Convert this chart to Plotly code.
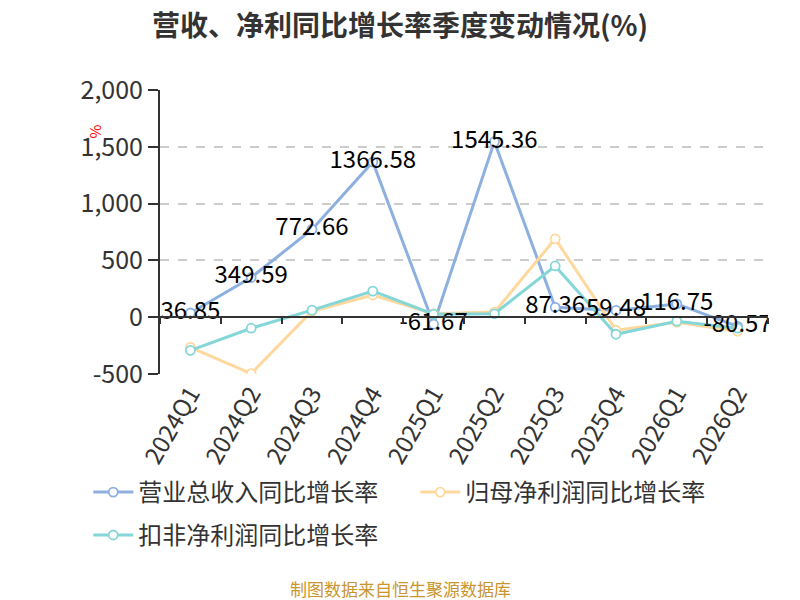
import plotly.graph_objects as go

quarters = ["2024Q1", "2024Q2", "2024Q3", "2024Q4", "2025Q1",
            "2025Q2", "2025Q3", "2025Q4", "2026Q1", "2026Q2"]
revenue_yoy = [36.85, 349.59, 772.66, 1366.58, -61.67, 1545.36, 87.36, 59.48, 116.75, -80.57]
net_profit_yoy = [-265, -496, 53, 195, 30, 45, 690, -115, -44, -124]
deducted_profit_yoy = [-292, -97, 62, 230, 27, 30, 451, -150, -35, -97]

y_ticks = [-500, 0, 500, 1000, 1500, 2000]
y_tick_text = ["-500", "0", "500", "1,000", "1,500", "2,000"]

FONT = "Noto Sans CJK SC"
series = [
    ("营业总收入同比增长率", revenue_yoy, "#8eb0df", "legend"),
    ("归母净利润同比增长率", net_profit_yoy, "#fed89c", "legend"),
    ("扣非净利润同比增长率", deducted_profit_yoy, "#84d6d8", "legend2"),
]

fig = go.Figure()
for name, vals, color, leg in series:
    fig.add_trace(go.Scatter(
        x=quarters, y=vals, name=name, mode="lines+markers", legend=leg,
        line=dict(color=color, width=3),
        marker=dict(size=9, color="white", line=dict(color=color, width=1.8)),
    ))

# labels of the revenue series, drawn on top of everything
fig.add_trace(go.Scatter(
    x=quarters, y=revenue_yoy, mode="text", xaxis="x2", showlegend=False,
    text=[f"{v:.2f}" for v in revenue_yoy], textposition="middle center",
    textfont=dict(size=24, color="#000000", family=FONT), hoverinfo="skip",
))

legend_style = dict(orientation="h", xanchor="left", yanchor="top",
                    font=dict(size=24, color="#333333"), itemwidth=40,
                    entrywidth=272, entrywidthmode="pixels")

# the page has an 8px body margin, so the figure is laid out 8px up/left
fig.update_layout(
    width=800, height=600,
    margin=dict(l=152, r=40, t=82, b=234),
    paper_bgcolor="white", plot_bgcolor="white",
    font=dict(family=FONT, color="#333333"),
    title=dict(text="<b>营收、净利同比增长率季度变动情况(%)</b>", x=392 / 800, xanchor="center",
               xref="container", y=1 - 18 / 600, yanchor="middle",
               font=dict(size=28, color="#333333")),
    xaxis=dict(type="category", categoryarray=quarters, range=[-0.5, 9.5],
               showgrid=False, showline=False, ticks="", tickangle=-60,
               tickfont=dict(size=24, color="#333333")),
    xaxis2=dict(type="category", categoryarray=quarters, range=[-0.5, 9.5],
                overlaying="x", anchor="free", position=0.2,
                showline=True, linecolor="#333333", linewidth=2,
                ticks="outside", tickson="boundaries", ticklen=6, tickwidth=2,
                tickcolor="#333333", showticklabels=False, showgrid=False),
    yaxis=dict(range=[-500, 2000], tickvals=y_ticks, ticktext=y_tick_text,
               showline=True, linecolor="#333333", linewidth=2,
               ticks="outside", ticklen=10, tickwidth=2, tickcolor="#333333",
               showgrid=True, gridcolor="#cccccc", gridwidth=1.5, griddash="dash",
               zeroline=False, tickfont=dict(size=25, color="#333333")),
    legend=dict(x=-0.118, y=-0.338, **legend_style),
    legend2=dict(x=-0.118, y=-0.489, **legend_style),
    showlegend=True,
)

fig.add_annotation(text="%", xref="paper", yref="paper", x=(82 - 160) / 608, y=(374 - 123) / 284,
                   showarrow=False, textangle=-90, font=dict(size=15, color="red"))
fig.add_annotation(text="制图数据来自恒生聚源数据库", xref="paper", yref="paper",
                   x=(400 - 160) / 608, y=-(588 - 374) / 284, xanchor="center", yanchor="middle",
                   showarrow=False, font=dict(size=17, color="#c9952f"))

fig.write_html("out.html")
